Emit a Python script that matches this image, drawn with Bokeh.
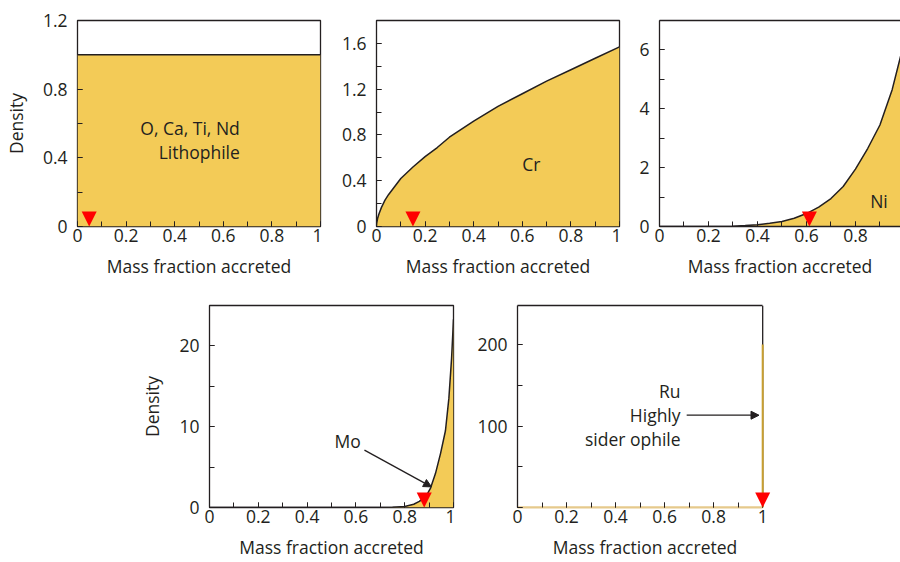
from bokeh.plotting import figure
from bokeh.layouts import column, row
from bokeh.models import (SingleIntervalTicker, CustomJSTickFormatter, Arrow,
                          NormalHead, LinearAxis, FixedTicker, Range1d, Span)
from bokeh.core.properties import value
from bokeh.embed import file_html
from bokeh.resources import INLINE

FONT = "Open Sans"
FS = "17.5px"
INK = "#231f20"
GOLD = "#f3cb57"
RED = "#ff0000"
TAN = "#e6c98c"
DARKGOLD = "#c9a030"

# ---------------- data ----------------
x_label = "Mass fraction accreted"
y_label = "Density"

lith_x = [0.0, 1.0]
lith_y = [1.0, 1.0]
lith_marker = 0.048

cr_x = [0.0, 0.001, 0.005, 0.01, 0.02, 0.035, 0.05, 0.075, 0.1, 0.15, 0.2,
        0.25, 0.3, 0.4, 0.5, 0.6, 0.7, 0.8, 0.9, 1.0]
cr_y = [0.0, 0.03, 0.075, 0.11, 0.165, 0.23, 0.28, 0.35, 0.42, 0.52, 0.61,
        0.69, 0.78, 0.92, 1.05, 1.16, 1.27, 1.37, 1.47, 1.57]
cr_marker = 0.15

ni_x = [0.0, 0.2, 0.3, 0.35, 0.4, 0.45, 0.5, 0.55, 0.6, 0.65, 0.7, 0.75,
        0.8, 0.85, 0.9, 0.95, 1.0]
ni_y = [0.0, 0.0, 0.01, 0.03, 0.06, 0.11, 0.17, 0.28, 0.44, 0.66, 0.95,
        1.36, 1.95, 2.65, 3.45, 4.65, 6.3]
ni_marker = 0.612

mo_x = [0.0, 0.7, 0.75, 0.8, 0.837, 0.86, 0.878, 0.895, 0.906, 0.926,
        0.947, 0.967, 0.981, 0.992, 1.0]
mo_y = [0.0, 0.0, 0.02, 0.12, 0.4, 0.75, 1.2, 1.8, 2.4, 4.2, 6.7, 9.5,
        13.5, 18.4, 23.3]
mo_marker = 0.88

ru_x = [0.0, 0.2, 0.4, 0.6, 0.8, 1.0, 1.0]
ru_y = [0.0, 0.0, 0.0, 0.0, 0.0, 0.0, 200.0]
ru_marker = 1.0

fmt_code = "return (Math.round(tick*10)/10).toString();"
fmt_code_no0 = "if (Math.abs(tick) < 1e-9) return ''; return (Math.round(tick*10)/10).toString();"
EPS = 1e-6


def panel(width, height, left, right, top, bottom, x_end, y_end, y_int,
          ylab=False, outline=True, hide0=False):
    p = figure(width=width, height=height, output_backend="svg",
               toolbar_location=None, x_range=Range1d(0, x_end),
               y_range=Range1d(0, y_end + EPS), min_border_left=left,
               min_border_right=right, min_border_top=top,
               min_border_bottom=bottom)
    p.grid.visible = False
    p.background_fill_color = "white"
    p.border_fill_color = "white"
    if outline:
        p.outline_line_color = INK
        p.outline_line_width = 1.3
        p.outline_line_alpha = 1.0
    else:
        p.outline_line_color = None
    p.xaxis.ticker = SingleIntervalTicker(interval=0.2, num_minor_ticks=2)
    p.yaxis.ticker = SingleIntervalTicker(interval=y_int, num_minor_ticks=2)
    p.xaxis.formatter = CustomJSTickFormatter(code=fmt_code)
    p.yaxis.formatter = CustomJSTickFormatter(code=fmt_code_no0 if hide0 else fmt_code)
    for ax in (p.xaxis[0], p.yaxis[0]):
        ax.major_tick_in = 5
        ax.major_tick_out = 0
        ax.minor_tick_in = 5
        ax.minor_tick_out = 0
        ax.major_tick_line_color = INK
        ax.minor_tick_line_color = INK
        ax.axis_line_color = None if outline else INK
        ax.axis_line_width = 1.3
        ax.major_label_text_font = FONT
        ax.major_label_text_font_size = FS
        ax.major_label_text_color = INK
        ax.axis_label_text_font = FONT
        ax.axis_label_text_font_size = FS
        ax.axis_label_text_font_style = "normal"
        ax.axis_label_text_color = INK
    p.xaxis.major_label_standoff = 2
    p.yaxis.major_label_standoff = 10
    p.xaxis.axis_label = x_label
    p.xaxis.axis_label_standoff = 9
    if ylab:
        p.yaxis.axis_label = y_label
        p.yaxis.axis_label_standoff = 12
    return p


def top_line(p, bounds="auto"):
    ax = LinearAxis(ticker=FixedTicker(ticks=[]), axis_line_color=INK,
                    axis_line_width=1.3, major_tick_in=0, major_tick_out=0,
                    minor_tick_in=0, minor_tick_out=0, major_label_standoff=0,
                    bounds=bounds)
    p.add_layout(ax, "above")


def marker(p, x, y_end):
    p.add_layout(Arrow(x_start=x, y_start=y_end * 0.05, x_end=x, y_end=0,
                       line_alpha=0,
                       end=NormalHead(size=15, fill_color=RED,
                                      line_color=None)))


def label(p, x, y, t, align="center"):
    p.text(x=[x], y=[y], text=[t], text_font=value(FONT), text_font_size=FS,
           text_color=INK, text_align=align, text_baseline="middle")


# Panel 1: lithophile
p1 = panel(322, 286, 76, 2, 20, 60, 1.0, 1.2, 0.4, ylab=True)
p1.varea(x=lith_x, y1=0, y2=lith_y, fill_color=GOLD)
p1.line(lith_x, lith_y, line_color=INK, line_width=1.5)
label(p1, 0.668, 0.575, "O, Ca, Ti, Nd", "right")
label(p1, 0.668, 0.435, "Lithophile", "right")
marker(p1, lith_marker, 1.2)

# Panel 2: Cr
p2 = panel(299, 286, 54, 2, 20, 60, 1.0, 1.8, 0.4)
p2.varea(x=cr_x, y1=0, y2=cr_y, fill_color=GOLD)
p2.line(cr_x, cr_y, line_color=INK, line_width=1.5)
label(p2, 0.637, 0.547, "Cr")
marker(p2, cr_marker, 1.8)

# Panel 3: Ni (cut at right edge)
p3 = panel(279, 286, 38, 0, 20, 60, 0.984, 7.0, 2, outline=False)
top_line(p3)
p3.varea(x=ni_x, y1=0, y2=ni_y, fill_color=GOLD)
p3.line(ni_x, ni_y, line_color=INK, line_width=1.5)
label(p3, 0.896, 0.87, "Ni")
marker(p3, ni_marker, 7.0)

# Panel 4: Mo
p4 = panel(455, 275, 209, 2, 19, 49, 1.0, 25.0, 10, ylab=True)
p4.varea(x=mo_x, y1=0, y2=mo_y, fill_color=GOLD)
p4.line(mo_x, mo_y, line_color=INK, line_width=1.5)
label(p4, 0.566, 8.2, "Mo")
p4.add_layout(Arrow(end=NormalHead(size=8, fill_color=INK, line_color=INK),
                    x_start=0.635, y_start=7.1, x_end=0.91, y_end=2.55,
                    line_color=INK, line_width=1.3))
marker(p4, mo_marker, 25.0)

# Panel 5: Ru (frame drawn from axes so the marker at x=1 is not clipped)
p5 = panel(327, 275, 62, 10, 19, 49, 1.04, 248.0, 100, hide0=True,
           outline=False)
p5.xaxis.bounds = (0, 1)
p5.xaxis.axis_line_color = TAN
p5.xaxis.axis_line_width = 2
top_line(p5, bounds=(0, 1))
p5.add_layout(Span(location=1.0, dimension="height", line_color=INK,
                   line_width=1.3, level="underlay"))
p5.line(ru_x[:-1], ru_y[:-1], line_color=TAN, line_width=2)
p5.line(ru_x[-2:], ru_y[-2:], line_color=DARKGOLD, line_width=2)
label(p5, 0.665, 142.5, "Ru", "right")
label(p5, 0.665, 113.3, "Highly", "right")
label(p5, 0.665, 84.5, "sider ophile", "right")
p5.add_layout(Arrow(end=NormalHead(size=8, fill_color=INK, line_color=INK),
                    x_start=0.69, y_start=113.3, x_end=0.985, y_end=113.3,
                    line_color=INK, line_width=1.3))
marker(p5, ru_marker, 248.0)

layout = column(row(p1, p2, p3), row(p4, p5))
open("out.html", "w").write(file_html(layout, INLINE))
